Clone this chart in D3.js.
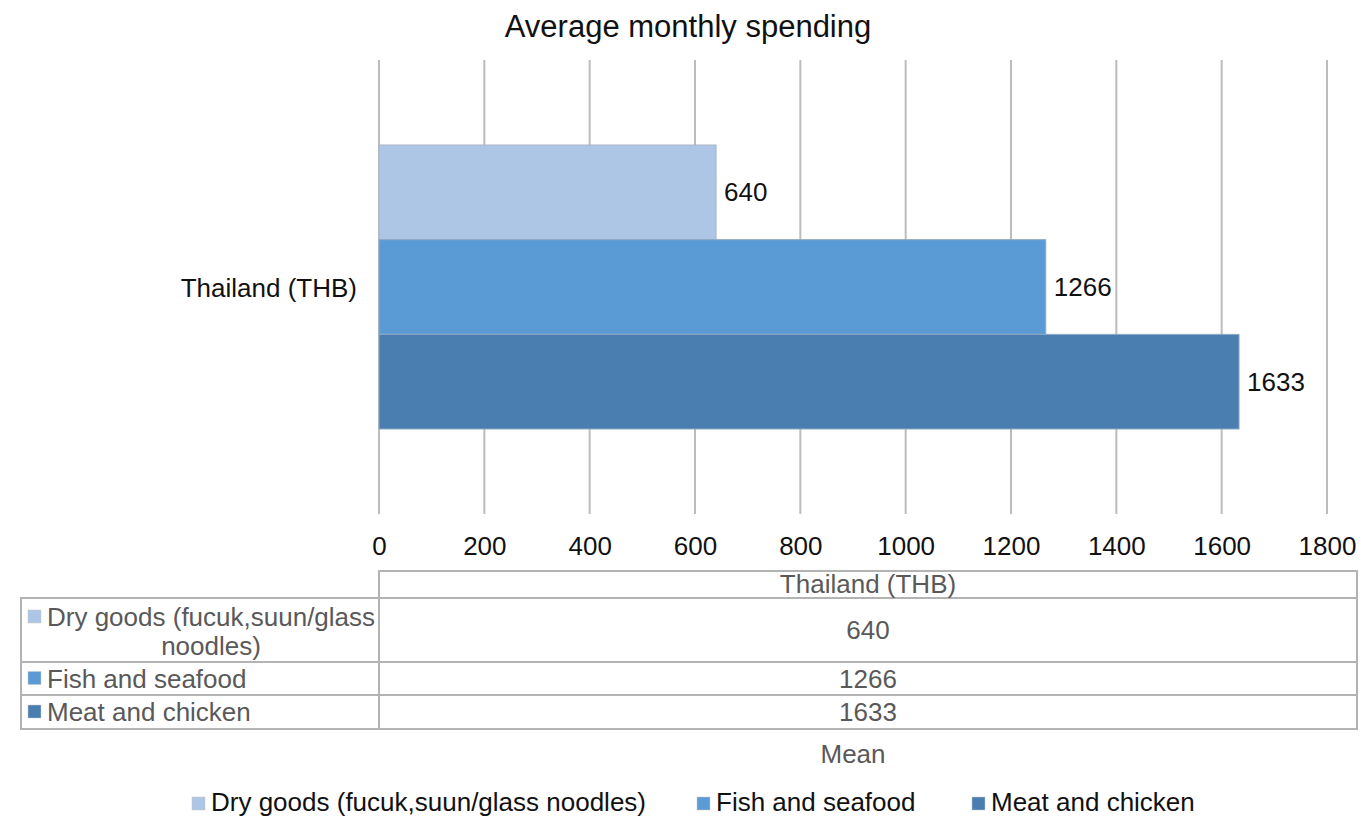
<!DOCTYPE html>
<html>
<head>
<meta charset="utf-8">
<script src="https://cdn.jsdelivr.net/npm/d3@7"></script>
<style>
  html, body { margin: 0; padding: 0; background: #fff; }
  svg { display: block; font-family: "Liberation Sans", Arial, sans-serif; }
</style>
</head>
<body>
<svg id="chart" width="1371" height="818"></svg>
<script>
// Chart data
const category = "Thailand (THB)";
const seriesNames = ["Dry goods (fucuk,suun/glass noodles)", "Fish and seafood", "Meat and chicken"];
const seriesValues = [640, 1266, 1633];
const seriesColors = ["#adc6e6", "#5b9bd5", "#4a7eb0"];
const xTicks = [0, 200, 400, 600, 800, 1000, 1200, 1400, 1600, 1800];

const svg = d3.select("#chart");
const FS = 26;

// Scales
const x = d3.scaleLinear().domain([0, 1800]).range([379, 1327]);
const y = d3.scaleBand().domain(seriesNames).range([145, 429]).padding(0);

// Title
svg.append("text")
  .attr("x", 688).attr("y", 37)
  .attr("text-anchor", "middle")
  .attr("font-size", 31).attr("fill", "#111")
  .text("Average monthly spending");

// Vertical gridlines
svg.append("g").selectAll("line").data(xTicks).join("line")
  .attr("x1", d => x(d)).attr("x2", d => x(d))
  .attr("y1", 60).attr("y2", 514)
  .attr("stroke", "#bcbcbc").attr("stroke-width", 2);

// Bars
svg.append("g").selectAll("rect").data(seriesNames).join("rect")
  .attr("x", x(0))
  .attr("y", d => y(d))
  .attr("width", (d, i) => x(seriesValues[i]) - x(0))
  .attr("height", y.bandwidth())
  .attr("fill", (d, i) => seriesColors[i])
  .attr("stroke", (d, i) => i === 0 ? "#a8b6c8" : "#8fa9c4")
  .attr("stroke-width", 1);

// Value labels
svg.append("g").selectAll("text").data(seriesNames).join("text")
  .attr("x", (d, i) => x(seriesValues[i]) + 8)
  .attr("y", d => y(d) + y.bandwidth() / 2 + 9)
  .attr("font-size", FS).attr("fill", "#111")
  .text((d, i) => seriesValues[i]);

// Category label
svg.append("text")
  .attr("x", 357).attr("y", 297)
  .attr("text-anchor", "end")
  .attr("font-size", FS).attr("fill", "#111")
  .text(category);

// X axis tick labels
const axis = d3.axisBottom(x).tickValues(xTicks).tickSize(0).tickPadding(0).tickFormat(d3.format("d"));
const ax = svg.append("g").attr("transform", "translate(0,555)").call(axis);
ax.select(".domain").remove();
ax.selectAll("text")
  .attr("font-size", FS).attr("fill", "#111")
  .attr("font-family", "'Liberation Sans', Arial, sans-serif")
  .attr("dy", 0);

// Data table
const tbl = svg.append("g").attr("fill", "none").attr("stroke", "#b3b3b3").attr("stroke-width", 2);
const leftX = 21, midX = 379, rightX = 1357;
const headerTop = 571, headerBottom = 598;
const rowBottoms = [662, 695, 729];
const rowTops = [headerBottom, rowBottoms[0], rowBottoms[1]];

tbl.append("rect").attr("x", midX).attr("y", headerTop).attr("width", rightX - midX).attr("height", headerBottom - headerTop);
rowTops.forEach((t, i) => {
  tbl.append("rect").attr("x", leftX).attr("y", t).attr("width", midX - leftX).attr("height", rowBottoms[i] - t);
  tbl.append("rect").attr("x", midX).attr("y", t).attr("width", rightX - midX).attr("height", rowBottoms[i] - t);
});

const midCenter = (midX + rightX) / 2;
svg.append("text")
  .attr("x", midCenter).attr("y", 593)
  .attr("text-anchor", "middle").attr("font-size", FS).attr("fill", "#595959")
  .text(category);

svg.append("g").selectAll("text").data(seriesValues).join("text")
  .attr("x", midCenter)
  .attr("y", (d, i) => (rowTops[i] + rowBottoms[i]) / 2 + 9)
  .attr("text-anchor", "middle").attr("font-size", FS).attr("fill", "#595959")
  .text(d => d);

// Row headers with swatches
const rowLabelLines = [["Dry goods (fucuk,suun/glass", "noodles)"], ["Fish and seafood"], ["Meat and chicken"]];
rowLabelLines.forEach((lines, i) => {
  const firstY = lines.length > 1 ? rowTops[i] + 28 : (rowTops[i] + rowBottoms[i]) / 2 + 9;
  svg.append("rect")
    .attr("x", 28).attr("y", firstY - 16).attr("width", 13).attr("height", 13)
    .attr("fill", seriesColors[i]).attr("stroke", "#c8c8c8").attr("stroke-width", 0.5);
  lines.forEach((ln, j) => {
    svg.append("text")
      .attr("x", j === 0 ? 47 : 211)
      .attr("y", firstY + j * 29)
      .attr("text-anchor", j === 0 ? "start" : "middle")
      .attr("font-size", FS).attr("fill", "#595959")
      .text(ln);
  });
});

// Axis title under table
svg.append("text")
  .attr("x", 853).attr("y", 763)
  .attr("text-anchor", "middle").attr("font-size", FS).attr("fill", "#595959")
  .text("Mean");

// Legend
const legendX = [192, 697, 972];
const lg = svg.append("g").selectAll("g").data(seriesNames).join("g")
  .attr("transform", (d, i) => `translate(${legendX[i]},811)`);
lg.append("rect")
  .attr("x", 0).attr("y", -14).attr("width", 13).attr("height", 13)
  .attr("fill", (d, i) => seriesColors[i]).attr("stroke", "#c8c8c8").attr("stroke-width", 0.5);
lg.append("text")
  .attr("x", 19).attr("y", 0)
  .attr("font-size", FS).attr("fill", "#111")
  .text(d => d);
</script>
</body>
</html>
